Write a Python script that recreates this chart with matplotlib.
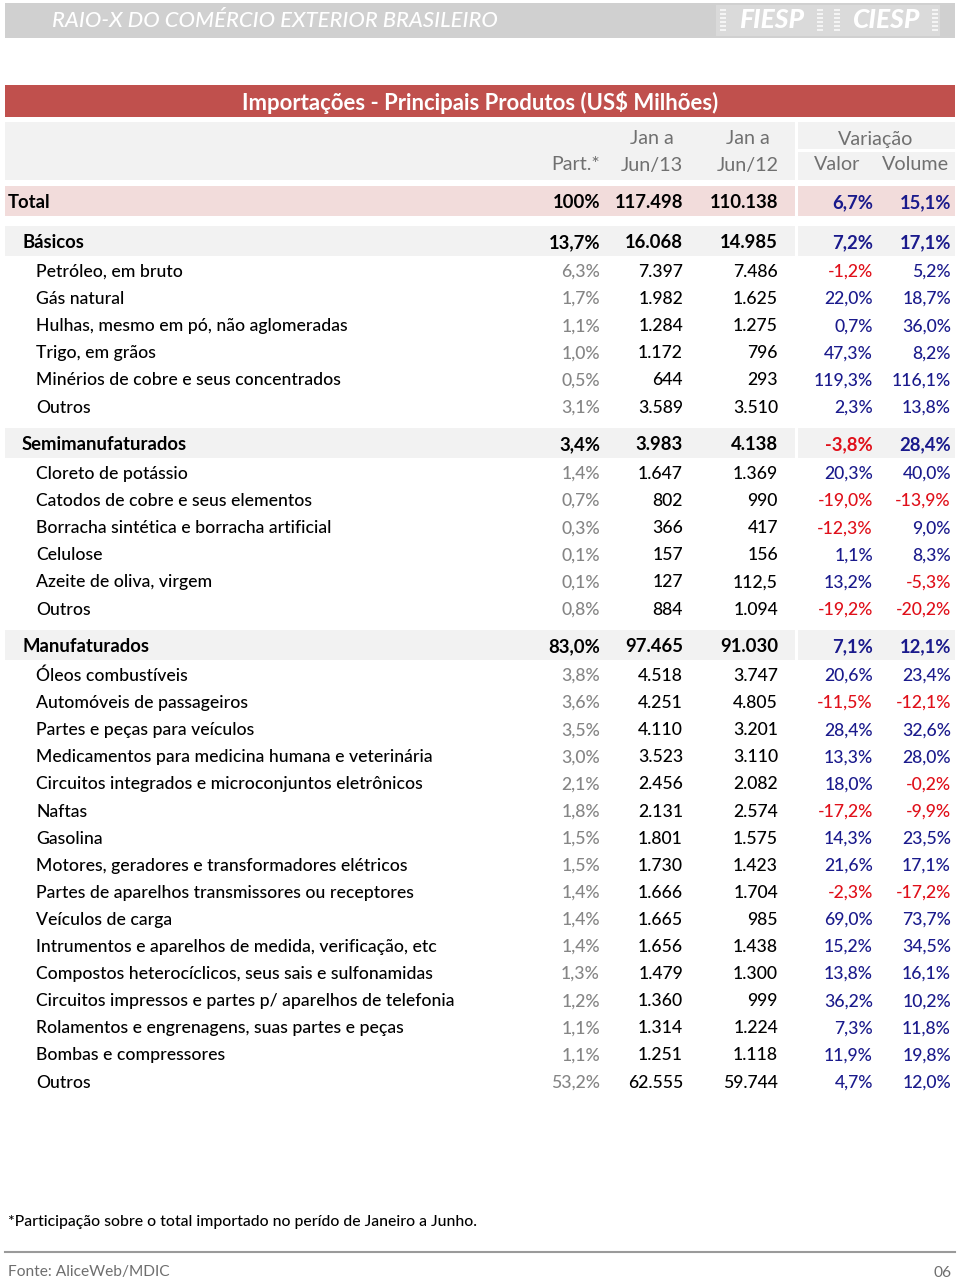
import matplotlib
matplotlib.use("Agg")
import matplotlib.pyplot as plt
from matplotlib.patches import Rectangle

plt.rcParams['font.family'] = ['Lato', 'DejaVu Sans']

# --- data -------------------------------------------------------------
produtos = [
    "Total",
    "Básicos",
    "Petróleo, em bruto", "Gás natural", "Hulhas, mesmo em pó, não aglomeradas",
    "Trigo, em grãos", "Minérios de cobre e seus concentrados", "Outros",
    "Semimanufaturados",
    "Cloreto de potássio", "Catodos de cobre e seus elementos",
    "Borracha sintética e borracha artificial", "Celulose",
    "Azeite de oliva, virgem", "Outros",
    "Manufaturados",
    "Óleos combustíveis", "Automóveis de passageiros", "Partes e peças para veículos",
    "Medicamentos para medicina humana e veterinária",
    "Circuitos integrados e microconjuntos eletrônicos", "Naftas", "Gasolina",
    "Motores, geradores e transformadores elétricos",
    "Partes de aparelhos transmissores ou receptores", "Veículos de carga",
    "Intrumentos e aparelhos de medida, verificação, etc",
    "Compostos heterocíclicos, seus sais e sulfonamidas",
    "Circuitos impressos e partes p/ aparelhos de telefonia",
    "Rolamentos e engrenagens, suas partes e peças",
    "Bombas e compressores", "Outros",
]
nivel = [0, 1, 2, 2, 2, 2, 2, 2, 1, 2, 2, 2, 2, 2, 2, 1] + [2] * 16
part = [100, 13.7, 6.3, 1.7, 1.1, 1.0, 0.5, 3.1, 3.4, 1.4, 0.7, 0.3, 0.1, 0.1, 0.8,
        83.0, 3.8, 3.6, 3.5, 3.0, 2.1, 1.8, 1.5, 1.5, 1.4, 1.4, 1.4, 1.3, 1.2, 1.1, 1.1, 53.2]
jun13 = [117498, 16068, 7397, 1982, 1284, 1172, 644, 3589, 3983, 1647, 802, 366, 157, 127, 884,
         97465, 4518, 4251, 4110, 3523, 2456, 2131, 1801, 1730, 1666, 1665, 1656, 1479, 1360,
         1314, 1251, 62555]
jun12 = [110138, 14985, 7486, 1625, 1275, 796, 293, 3510, 4138, 1369, 990, 417, 156, 112.5, 1094,
         91030, 3747, 4805, 3201, 3110, 2082, 2574, 1575, 1423, 1704, 985, 1438, 1300, 999,
         1224, 1118, 59744]
valor = [6.7, 7.2, -1.2, 22.0, 0.7, 47.3, 119.3, 2.3, -3.8, 20.3, -19.0, -12.3, 1.1, 13.2, -19.2,
         7.1, 20.6, -11.5, 28.4, 13.3, 18.0, -17.2, 14.3, 21.6, -2.3, 69.0, 15.2, 13.8, 36.2,
         7.3, 11.9, 4.7]
volume = [15.1, 17.1, 5.2, 18.7, 36.0, 8.2, 116.1, 13.8, 28.4, 40.0, -13.9, 9.0, 8.3, -5.3, -20.2,
          12.1, 23.4, -12.1, 32.6, 28.0, -0.2, -9.9, 23.5, 17.1, -17.2, 73.7, 34.5, 16.1, 10.2,
          11.8, 19.8, 12.0]

# --- helpers ----------------------------------------------------------
def fmt_num(v):
    if float(v).is_integer():
        return f"{int(v):,}".replace(",", ".")
    return f"{v:.1f}".replace(".", ",")


def fmt_pct(v):
    if v == 100:
        return "100%"
    return f"{v:.1f}%".replace(".", ",")


BLUE = "#1a1a8c"
RED = "#e0101a"
GREY = "#858585"
HEAD = "#707070"

fig = plt.figure(figsize=(9.6, 12.79), dpi=100)
ax = fig.add_axes([0, 0, 1, 1])
ax.set_xlim(0, 960)
ax.set_ylim(1279, 0)
ax.axis("off")

# top banner
ax.add_patch(Rectangle((5, 3), 950, 35, color="#d0d0d0", lw=0))
ax.add_patch(Rectangle((716, 5), 224, 31, color="#dadada", lw=0))
ax.text(52, 21, "RAIO-X DO COMÉRCIO EXTERIOR BRASILEIRO", color="white", fontsize=15.8,
        style="italic", weight="medium", va="center", ha="left")
ax.text(772, 20, "FIESP", color="white", fontsize=19, weight="black", style="italic",
        va="center", ha="center")
ax.text(886, 20, "CIESP", color="white", fontsize=19, weight="black", style="italic",
        va="center", ha="center")
# dashed stripes beside the logo words
for xd in (720, 817, 834, 932):
    for yd in range(10, 32, 4):
        ax.plot([xd, xd + 6], [yd, yd], color="white", lw=1.2, alpha=0.85,
                solid_capstyle="butt")

# title bar
ax.add_patch(Rectangle((5, 85), 950, 32, color="#c0504d", lw=0))
ax.text(480, 102, "Importações - Principais Produtos (US$ Milhões)", color="white",
        fontsize=15.9, weight="bold", va="center", ha="center")

# header block
ax.add_patch(Rectangle((5, 122), 790, 58, color="#f2f2f2", lw=0))
ax.add_patch(Rectangle((798, 122), 157, 27, color="#f2f2f2", lw=0))
ax.add_patch(Rectangle((798, 152), 157, 28, color="#f2f2f2", lw=0))
hs = 14.2
ax.text(652, 139, "Jan a", color=HEAD, fontsize=hs, va="center", ha="center")
ax.text(748, 139, "Jan a", color=HEAD, fontsize=hs, va="center", ha="center")
ax.text(876, 139, "Variação", color=HEAD, fontsize=hs, va="center", ha="center")
ax.text(600, 165, "Part.*", color=HEAD, fontsize=hs, va="center", ha="right")
ax.text(652, 165, "Jun/13", color=HEAD, fontsize=hs, va="center", ha="center")
ax.text(748, 165, "Jun/12", color=HEAD, fontsize=hs, va="center", ha="center")
ax.text(837, 165, "Valor", color=HEAD, fontsize=hs, va="center", ha="center")
ax.text(916, 165, "Volume", color=HEAD, fontsize=hs, va="center", ha="center")

# rows
col_x = [600, 683, 778, 873, 951]
name_x = {0: 8, 1: 22, 2: 36}
y = 201
prev = None
for i, nome in enumerate(produtos):
    lv = nivel[i]
    if prev is not None:
        if lv == 1 and prev == 0:
            y += 40
        elif lv == 1:
            y += 37
        elif lv == 2 and prev == 1:
            y += 29.5
        else:
            y += 27.1
    prev = lv

    bold = lv < 2
    wt = "bold" if bold else "medium"
    if lv < 2:
        band = "#f2dcdb" if lv == 0 else "#f2f2f2"
        ax.add_patch(Rectangle((5, y - 15), 790, 30, color=band, lw=0))
        ax.add_patch(Rectangle((798, y - 15), 157, 30, color=band, lw=0))
    size = 13.3 if bold else 12.7
    ty = y + 1.5

    ax.text(name_x[lv], ty, nome, fontsize=size, weight=wt, va="center", ha="left", color="black")
    ax.text(col_x[0], ty, fmt_pct(part[i]), fontsize=size, weight=wt, va="center", ha="right",
            color="black" if bold else GREY)
    ax.text(col_x[1], ty, fmt_num(jun13[i]), fontsize=size, weight=wt, va="center", ha="right",
            color="black")
    ax.text(col_x[2], ty, fmt_num(jun12[i]), fontsize=size, weight=wt, va="center", ha="right",
            color="black")
    for k, v in ((3, valor[i]), (4, volume[i])):
        ax.text(col_x[k], ty, fmt_pct(v), fontsize=size, weight=wt, va="center", ha="right",
                color=RED if v < 0 else BLUE)

# footnote and footer
ax.text(8, 1222, "*Participação sobre o total importado no perído de Janeiro a Junho.",
        fontsize=11.3, weight="medium", va="center", ha="left", color="black")
ax.plot([5, 955], [1252, 1252], color="#9a9a9a", lw=1.5)
ax.text(8, 1272, "Fonte: AliceWeb/MDIC", fontsize=11.2, va="center", ha="left", color="#6e6e6e")
ax.text(952, 1273, "06", fontsize=11.2, va="center", ha="right", color="#6e6e6e")

fig.savefig("out.png", dpi=100)
